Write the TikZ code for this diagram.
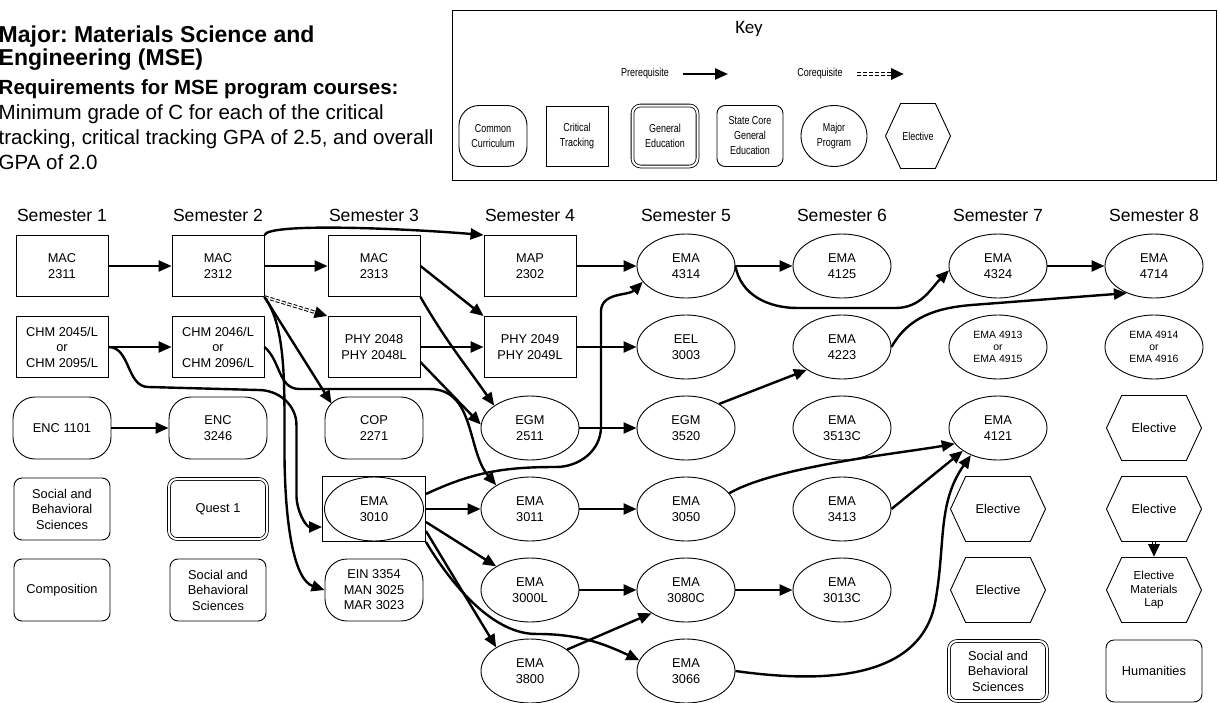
\documentclass[tikz,border=0pt]{standalone}
\usepackage{fontspec}
\setmainfont{Liberation Sans}
\newfontfamily\keyfont[FakeStretch=0.78]{Liberation Sans}
\newfontfamily\keyheadfont{Carlito}
\usetikzlibrary{positioning,shapes.geometric,shapes.symbols,arrows.meta,calc,decorations.markings}
\frenchspacing

\newcommand{\crsfont}{\fontsize{12.8}{15.5}\selectfont}
\newcommand{\crssmall}{\fontsize{10.5}{12.2}\selectfont}
\newcommand{\labfont}{\fontsize{11.6}{13.5}\selectfont}
\newcommand{\semfont}{\fontsize{17.6}{20}\selectfont}
\newcommand{\keytext}{\keyfont\fontsize{11.5}{15}\selectfont}

\tikzset{
  course/.style={font=\crsfont, align=center, inner sep=1pt, line width=0.9pt},
  critical/.style={course, draw, rectangle, minimum width=92pt, minimum height=61pt},
  common/.style={course, draw, rectangle, rounded corners=22pt, minimum width=98pt, minimum height=62pt},
  statecore/.style={course, draw, rectangle, rounded corners=8pt, minimum width=96pt, minimum height=62pt},
  general/.style={course, draw, rectangle, rounded corners=8pt, double, double distance=2pt, line width=0.8pt, minimum width=98pt, minimum height=60pt},
  major/.style={course, draw, ellipse, minimum width=98pt, minimum height=64pt},
  elective/.style={course, draw, signal, signal to=east and west, signal pointer angle=130, minimum width=95pt, minimum height=65pt},
  prereq/.style={-{Triangle[length=13pt,width=11pt]}, line width=2.4pt},
  coreq/.style={line width=3.4pt, dash pattern=on 4pt off 2pt, shorten >=12pt,
    postaction={draw=white, line width=1.4pt, dash pattern=on 4pt off 2pt, shorten >=11.5pt},
    postaction={decorate, decoration={markings, mark=at position 1 with {\arrow{Triangle[length=13pt,width=11pt]}}}}},
  semester/.style={font=\semfont},
  keyitem/.style={font=\keytext}
}

\begin{document}
\begin{tikzpicture}[x=1pt,y=1pt,node distance=81pt and 156pt,on grid]
\useasboundingbox (-62,266) rectangle (1157,-436);

% heading
\node[anchor=north west, inner sep=0pt, align=left, font=\fontsize{23}{21}\selectfont\bfseries] (title) at (-63.5,240) {Major: Materials Science and\\Engineering (MSE)};
\node[anchor=north west, inner sep=0pt, align=left, font=\fontsize{20.5}{25}\selectfont] (req) at (-63.5,187) {\textbf{Requirements for MSE program courses:}\\Minimum grade of C for each of the critical\\tracking, critical tracking GPA of 2.5, and overall\\GPA of 2.0};

% key
\draw[line width=0.9pt] (390,256) rectangle (1154,86);
\node[font=\keyheadfont\fontsize{19}{22}\selectfont] (key_title) at (687,237) {Key};
\node[keyitem] (pre_label) at (583,192) {Prerequisite};
\coordinate (pre_a) at (621,192);
\coordinate (pre_b) at (666,192);
\draw[prereq] (pre_a) -- (pre_b);
\node[keyitem] (co_label) at (758,192) {Corequisite};
\coordinate (co_a) at (795,192);
\coordinate (co_b) at (842,192);
\draw[coreq] (co_a) -- (co_b);
\node[common, keyitem, rounded corners=20pt, minimum width=68pt, minimum height=61pt] (key_common) at (431,130) {Common\\Curriculum};
\node[critical, keyitem, minimum width=62pt, minimum height=60pt] (key_critical) at (515,130) {Critical\\Tracking};
\node[general, keyitem, minimum width=65pt, minimum height=61pt] (key_general) at (603,130) {General\\Education};
\node[statecore, keyitem, minimum width=66pt, minimum height=61pt] (key_state) at (688,130) {State Core\\General\\Education};
\node[major, keyitem, minimum width=66pt, minimum height=61pt] (key_major) at (772,130) {Major\\Program};
\node[elective, keyitem, minimum width=65pt, minimum height=65pt] (key_elective) at (856,130) {Elective};

% semester 1
\node[critical] (mac_2311) at (0,0) {MAC\\2311};
\node[critical] (chm_2045) [below=of mac_2311] {CHM 2045/L\\or\\CHM 2095/L};
\node[common] (enc_1101) [below=of chm_2045] {ENC 1101};
\node[statecore] (soc_1) [below=of enc_1101] {Social and\\Behavioral\\Sciences};
\node[statecore] (comp_1) [below=of soc_1] {Composition};
% semester 2
\node[critical] (mac_2312) [right=of mac_2311] {MAC\\2312};
\node[critical] (chm_2046) [right=of chm_2045] {CHM 2046/L\\or\\CHM 2096/L};
\node[common] (enc_3246) [right=of enc_1101] {ENC\\3246};
\node[general] (quest_1) [right=of soc_1] {Quest 1};
\node[statecore] (soc_2) [right=of comp_1] {Social and\\Behavioral\\Sciences};
% semester 3
\node[critical] (mac_2313) [right=of mac_2312] {MAC\\2313};
\node[critical] (phy_2048) [right=of chm_2046] {PHY 2048\\PHY 2048L};
\node[common] (cop_2271) [right=of enc_3246] {COP\\2271};
\node[critical, minimum width=103pt, minimum height=65pt] (ema_3010) [right=of quest_1] {EMA\\3010};
\draw[line width=0.9pt] (ema_3010.center) ellipse [x radius=49.5pt, y radius=32pt];
\node[common] (ein_3354) [right=of soc_2] {EIN 3354\\MAN 3025\\MAR 3023};
% semester 4
\node[critical] (map_2302) [right=of mac_2313] {MAP\\2302};
\node[critical] (phy_2049) [right=of phy_2048] {PHY 2049\\PHY 2049L};
\node[major] (egm_2511) [right=of cop_2271] {EGM\\2511};
\node[major] (ema_3011) [right=of ema_3010] {EMA\\3011};
\node[major] (ema_3000L) [right=of ein_3354] {EMA\\3000L};
\node[major] (ema_3800) [below=of ema_3000L] {EMA\\3800};
% semester 5
\node[major] (ema_4314) [right=of map_2302] {EMA\\4314};
\node[major] (eel_3003) [right=of phy_2049] {EEL\\3003};
\node[major] (egm_3520) [right=of egm_2511] {EGM\\3520};
\node[major] (ema_3050) [right=of ema_3011] {EMA\\3050};
\node[major] (ema_3080C) [right=of ema_3000L] {EMA\\3080C};
\node[major] (ema_3066) [right=of ema_3800] {EMA\\3066};
% semester 6
\node[major] (ema_4125) [right=of ema_4314] {EMA\\4125};
\node[major] (ema_4223) [right=of eel_3003] {EMA\\4223};
\node[major] (ema_3513C) [right=of egm_3520] {EMA\\3513C};
\node[major] (ema_3413) [right=of ema_3050] {EMA\\3413};
\node[major] (ema_3013C) [right=of ema_3080C] {EMA\\3013C};
% semester 7
\node[major] (ema_4324) [right=of ema_4125] {EMA\\4324};
\node[major, font=\crssmall] (ema_4913) [right=of ema_4223] {EMA 4913\\or\\EMA 4915};
\node[major] (ema_4121) [right=of ema_3513C] {EMA\\4121};
\node[elective] (elec_7a) [right=of ema_3413] {Elective};
\node[elective] (elec_7b) [right=of ema_3013C] {Elective};
\node[general] (soc_7) [below=of elec_7b] {Social and\\Behavioral\\Sciences};
% semester 8
\node[major] (ema_4714) [right=of ema_4324] {EMA\\4714};
\node[major, font=\crssmall] (ema_4914) [right=of ema_4913] {EMA 4914\\or\\EMA 4916};
\node[elective] (elec_8a) [right=of ema_4121] {Elective};
\node[elective] (elec_8b) [right=of elec_7a] {Elective};
\node[elective, font=\labfont] (elec_lab) [right=of elec_7b] {Elective\\Materials\\Lap};
\node[statecore] (hum) [right=of soc_7] {Humanities};

\node[semester] (sem_1) [above=51pt of mac_2311] {Semester 1};
\node[semester] (sem_2) [above=51pt of mac_2312] {Semester 2};
\node[semester] (sem_3) [above=51pt of mac_2313] {Semester 3};
\node[semester] (sem_4) [above=51pt of map_2302] {Semester 4};
\node[semester] (sem_5) [above=51pt of ema_4314] {Semester 5};
\node[semester] (sem_6) [above=51pt of ema_4125] {Semester 6};
\node[semester] (sem_7) [above=51pt of ema_4324] {Semester 7};
\node[semester] (sem_8) [above=51pt of ema_4714] {Semester 8};

\path[prereq]
(mac_2311) edge (mac_2312)
(mac_2312) edge (mac_2313)
(chm_2045) edge (chm_2046)
(enc_1101) edge (enc_3246)
(mac_2313.east) edge (phy_2049.north west)
(phy_2048) edge (phy_2049)
(phy_2048.-18) edge (egm_2511.176)
(mac_2312.south east) edge ([shift={(7pt,-7pt)}]cop_2271.north west)
(map_2302) edge (ema_4314)
(phy_2049) edge (eel_3003)
(egm_2511) edge (egm_3520)
(egm_3520.36) edge (ema_4223.213)
(ema_3010) edge (ema_3011)
([yshift=-13pt]ema_3010.east) edge (ema_3000L.145)
([yshift=-22pt]ema_3010.east) edge (ema_3800.145)
(ema_3011) edge (ema_3050)
(ema_3000L) edge (ema_3080C)
(ema_3800.30) edge (ema_3080C.214)
(ema_3080C) edge (ema_3013C)
(ema_4314) edge (ema_4125)
(ema_4324) edge (ema_4714)
(ema_3413.east) edge (ema_4121.213)
;
\draw[coreq] (mac_2312.south east) -- (phy_2048.north west);
\draw[coreq] (elec_8b.south) -- (elec_lab.north);

\draw[prereq] (mac_2312.north east) .. controls +(4,13) and +(-70,6) .. (map_2302.north west);
\draw[prereq] (mac_2312.south east) .. controls +(22,-30) and +(0,60) .. ++(20,-150) .. controls +(0,-80) and +(-30,10) .. (ein_3354.west);
\draw[prereq] (chm_2045.east) to[out=0,in=180] ++(40,-40) -- ++(110,-3) to[out=0,in=90] ++(38,-35) -- ++(0,-70) to[out=-90,in=180] ([yshift=-18pt]ema_3010.west);
\draw[prereq] (chm_2046.east) to[out=-40,in=180] ++(35,-42) -- ++(130,0) to[out=0,in=130] (ema_3011.145);
\draw[prereq] (mac_2313.south east) to[out=-60,in=125] (egm_2511.148);
\draw[prereq] ([yshift=15pt]ema_3010.east) to[out=25,in=180] ++(130,27) to[out=0,in=-90] ++(45,40) -- ++(0,115) to[out=90,in=-135] (ema_4314.200);
\draw[prereq] (ema_3010.south east) .. controls +(30,-50) and +(-40,0) .. ++(110,-92) to[out=0,in=155] (ema_3066.167);
\draw[prereq] (ema_4314.east) to[out=-80,in=180] ++(62,-42) -- ++(98,0) to[out=0,in=-135] (ema_4324.185);
\draw[prereq] (ema_4223.east) to[out=60,in=185] ++(80,42) -- (ema_4714.225);
\draw[prereq] (ema_3050.20) to[out=30,in=190,looseness=0.6] (ema_4121.200);
\draw[prereq] (ema_3066.east) to[out=-8,in=-100] ++(200,70) to[out=80,in=-125] (ema_4121.225);
\end{tikzpicture}
\end{document}
